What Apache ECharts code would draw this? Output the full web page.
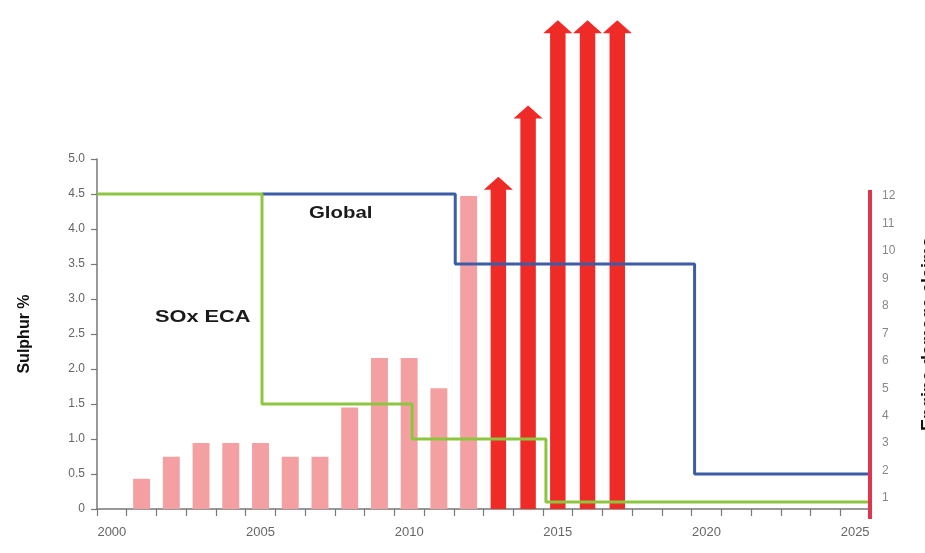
<!DOCTYPE html>
<html>
<head>
<meta charset="utf-8">
<style>
  html, body { margin: 0; padding: 0; background: #ffffff; }
  #chart { width: 925px; height: 553px; }
</style>
<script src="https://cdn.jsdelivr.net/npm/echarts@6/dist/echarts.min.js"></script>
</head>
<body>
<div id="chart"></div>
<script>
// Years on the category axis
const years = [];
for (let y = 2000; y <= 2025; y++) years.push(String(y));

// Engine damage claims (right axis units)
const claimYears = ['2001','2002','2003','2004','2005','2006','2007','2008','2009','2010','2011','2012'];
const claimValues = [1.7, 2.5, 3.0, 3.0, 3.0, 2.5, 2.5, 4.3, 6.1, 6.1, 5.0, 12.0];

// Off-scale claim years, drawn as arrows
const surgeYears = ['2013','2014','2015','2016','2017'];
const surgeValues = [12.7, 15.3, 18.4, 18.4, 18.4];

// Sulphur limits (%), [year of change, new limit]
const ecaLimits = [[2000, 4.5], [2005.55, 1.5], [2010.6, 1.0], [2015.1, 0.1], [2026, 0.1]];
const globalLimits = [[2005.55, 4.5], [2012.05, 3.5], [2020.1, 0.5], [2026, 0.5]];

// Tick labels
const sulphurTicks = [0, 0.5, 1.0, 1.5, 2.0, 2.5, 3.0, 3.5, 4.0, 4.5, 5.0];
const claimTicks = [1, 2, 3, 4, 5, 6, 7, 8, 9, 10, 11, 12];

const FONT = '"Liberation Sans", Arial, sans-serif';
const chart = echarts.init(document.getElementById('chart'), null, { renderer: 'canvas' });

const option = {
  backgroundColor: '#ffffff',
  animation: false,
  grid: { left: 97, right: 55, top: 159, bottom: 44, outerBoundsMode: 'none', containLabel: false },
  xAxis: [
    {
      type: 'category',
      data: years,
      boundaryGap: true,
      axisLine: { show: true, lineStyle: { color: '#777', width: 1.5 } },
      axisTick: { show: true, interval: 0, length: 7, lineStyle: { color: '#777', width: 1.2 } },
      axisLabel: { interval: 4, color: '#666', fontFamily: FONT, fontSize: 13, margin: 17 },
      splitLine: { show: false }
    },
    {
      type: 'value',
      min: 2000,
      max: 2026,
      show: false
    }
  ],
  yAxis: [
    {
      type: 'value',
      min: 0,
      max: 5,
      interval: 0.5,
      name: 'Sulphur %',
      nameLocation: 'middle',
      nameGap: 64,
      nameRotate: 90,
      nameTextStyle: { color: '#111', fontFamily: FONT, fontWeight: 'bold', fontSize: 16 },
      axisLine: { show: true, lineStyle: { color: '#777', width: 1.5 } },
      axisTick: { show: true, length: 6, lineStyle: { color: '#777', width: 1.2 } },
      axisLabel: {
        customValues: sulphurTicks,
        color: '#666', fontFamily: FONT, fontSize: 12, margin: 12,
        formatter: v => (v === 0 ? '0' : v.toFixed(1))
      },
      splitLine: { show: false }
    },
    {
      type: 'value',
      min: 0.6,
      max: 13.35,
      position: 'right',
      name: 'Engine damage claims',
      nameLocation: 'middle',
      nameGap: 50,
      nameRotate: 90,
      nameTextStyle: { color: '#111', fontFamily: FONT, fontWeight: 'bold', fontSize: 18 },
      axisLine: { show: false },
      axisTick: { show: false },
      axisLabel: { customValues: claimTicks, color: '#888', fontFamily: FONT, fontSize: 12, margin: 12 },
      splitLine: { show: false }
    }
  ],
  series: [
    {
      name: 'Claims',
      type: 'bar',
      xAxisIndex: 0,
      yAxisIndex: 1,
      clip: true,
      barWidth: '57%',
      itemStyle: { color: '#f4a0a3' },
      data: claimYears.map((y, i) => [y, claimValues[i]])
    },
    {
      name: 'Claims surge',
      type: 'custom',
      xAxisIndex: 0,
      yAxisIndex: 1,
      clip: false,
      encode: { x: 0, y: 1 },
      data: surgeYears.map((y, i) => [y, surgeValues[i]]),
      renderItem: function (params, api) {
        const tip = api.coord([api.value(0), api.value(1)]);
        const band = api.size([1, 0])[0];
        const base = params.coordSys.y + params.coordSys.height;
        const x = tip[0];
        const sw = band * 0.52 / 2;
        const hw = band * 0.98 / 2;
        const hh = 13;
        return {
          type: 'polygon',
          shape: {
            points: [
              [x - sw, base], [x - sw, tip[1] + hh], [x - hw, tip[1] + hh],
              [x, tip[1]], [x + hw, tip[1] + hh], [x + sw, tip[1] + hh], [x + sw, base]
            ]
          },
          style: { fill: '#ee2b26' }
        };
      }
    },
    {
      name: 'SOx ECA',
      type: 'line',
      xAxisIndex: 1,
      yAxisIndex: 0,
      step: 'end',
      symbol: 'none',
      lineStyle: { color: '#8cc63f', width: 3 },
      data: ecaLimits,
      z: 5
    },
    {
      name: 'Global',
      type: 'line',
      xAxisIndex: 1,
      yAxisIndex: 0,
      step: 'end',
      symbol: 'none',
      lineStyle: { color: '#3d5ca6', width: 3 },
      data: globalLimits,
      z: 4
    }
  ],
  graphic: [
    {
      id: 'label-global',
      type: 'text', x: 309, y: 205, scaleX: 1.2,
      style: { text: 'Global', fill: '#1a1a1a', font: 'bold 17px ' + FONT }
    },
    {
      id: 'label-eca',
      type: 'text', x: 155, y: 309, scaleX: 1.28,
      style: { text: 'SOx ECA', fill: '#1a1a1a', font: 'bold 17px ' + FONT }
    }
  ]
};

chart.setOption(option);

// Red spine of the claims axis, from its top label down past the x axis
const spineX = chart.convertToPixel({ xAxisIndex: 1 }, 2026);
const spineTop = chart.convertToPixel({ yAxisIndex: 1 }, 12.22);
const spineBottom = chart.convertToPixel({ yAxisIndex: 0 }, 0) + 10;
chart.setOption({
  graphic: [
    {
      id: 'claims-spine',
      type: 'line',
      shape: { x1: spineX, y1: spineTop, x2: spineX, y2: spineBottom },
      style: { stroke: '#e3344f', lineWidth: 4 },
      z: 20
    }
  ]
});
</script>
</body>
</html>
